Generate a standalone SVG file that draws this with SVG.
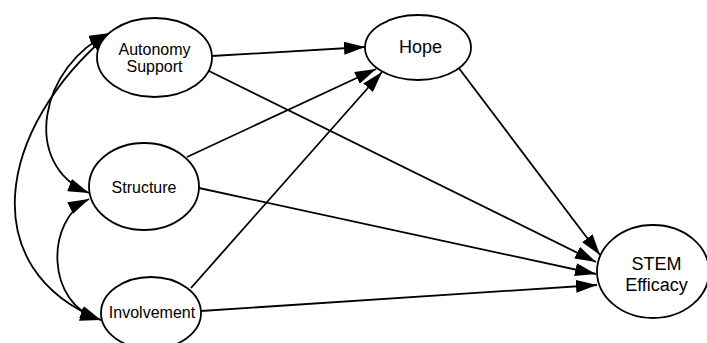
<svg xmlns="http://www.w3.org/2000/svg" width="707" height="343" viewBox="0 0 707 343">
<style>
.node ellipse{fill:#fff;stroke:#000;stroke-width:1.8}
.node text{font-family:"Liberation Sans",Arial,sans-serif;font-size:16px;fill:#000;text-anchor:middle}
.big text{font-size:18px}
.edge{fill:none;stroke:#000;stroke-width:1.8}
</style>
<defs>
<marker id="ah" markerUnits="userSpaceOnUse" markerWidth="21" markerHeight="13" refX="21" refY="6.5" orient="auto-start-reverse" viewBox="0 0 21 13">
<path d="M0,0 L21,6.5 L0,13 z" fill="#000"/>
</marker>
</defs>
<rect width="707" height="343" fill="#fff"/>
<g id="connectors">
<path class="edge" d="M212,56 L365,47" marker-end="url(#ah)"/>
<path class="edge" d="M209,71 L596,262" marker-end="url(#ah)"/>
<path class="edge" d="M187,157 L376,69" marker-end="url(#ah)"/>
<path class="edge" d="M199,188 L596,274" marker-end="url(#ah)"/>
<path class="edge" d="M191,288 L382,72" marker-end="url(#ah)"/>
<path class="edge" d="M201,311 L597,285" marker-end="url(#ah)"/>
<path class="edge" d="M458,67 L600,255" marker-end="url(#ah)"/>
<path class="edge" d="M110,33 C40,65 20,165 89,193" marker-start="url(#ah)" marker-end="url(#ah)"/>
<path class="edge" d="M110,33 C-5,130 -25,270 101,320" marker-start="url(#ah)" marker-end="url(#ah)"/>
<path class="edge" d="M89,199 C45,220 45,305 101,320" marker-start="url(#ah)" marker-end="url(#ah)"/>
</g>
<g id="autonomy" class="node"><ellipse cx="154.5" cy="57.5" rx="57.5" ry="39.5"/><text x="154.5" y="55">Autonomy</text><text x="154.5" y="72">Support</text></g>
<g id="structure" class="node"><ellipse cx="144" cy="186.5" rx="55" ry="43.5"/><text x="144" y="193">Structure</text></g>
<g id="involvement" class="node"><ellipse cx="151" cy="313" rx="50" ry="36"/><text x="152" y="318">Involvement</text></g>
<g id="hope" class="node big"><ellipse cx="418" cy="47.5" rx="53" ry="32.5"/><text x="420.5" y="53">Hope</text></g>
<g id="stem" class="node big"><ellipse cx="653" cy="271.5" rx="56" ry="46.5"/><text x="656.5" y="270">STEM</text><text x="656.5" y="291">Efficacy</text></g>
</svg>
